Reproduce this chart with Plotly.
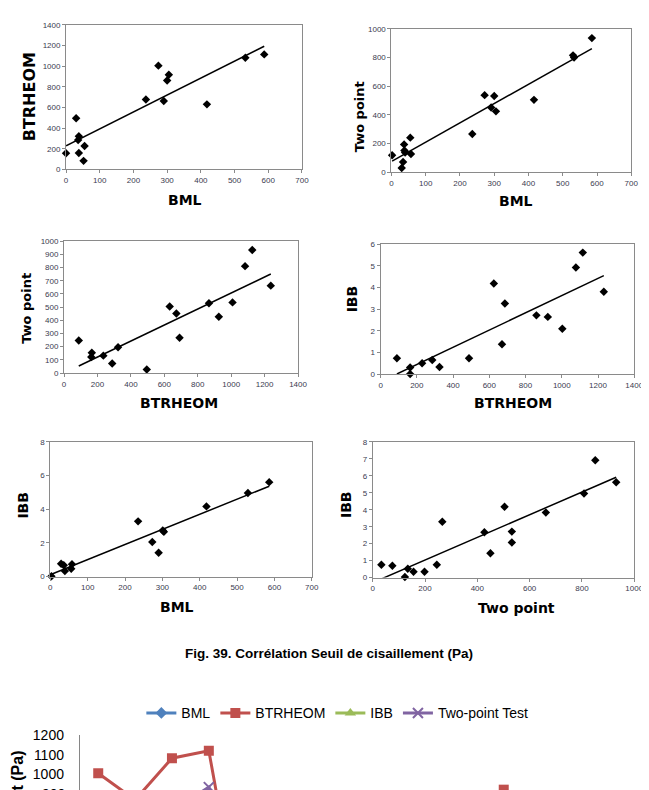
import numpy as np
import plotly.graph_objects as go

W, H = 649, 790

# ---------------- data ----------------
# Panel 1: BML vs BTRHEOM
p1_bml = [0, 30, 36, 38, 38, 52, 55, 237, 274, 290, 300, 305, 418, 532, 588]
p1_btr = [157, 495, 286, 321, 159, 83, 226, 678, 1005, 662, 862, 916, 630, 1082, 1114]

# Panel 2: BML vs Two point
p2_bml = [2, 30, 34, 37, 38, 40, 55, 57, 236, 272, 291, 300, 305, 416, 530, 533, 585]
p2_tp = [120, 30, 72, 195, 152, 138, 242, 128, 268, 538, 452, 532, 425, 505, 815, 800, 935]

# Panel 3: BTRHEOM vs Two point
p3_btr = [88, 166, 163, 235, 288, 323, 495, 632, 672, 691, 867, 926, 1008, 1083, 1126, 1237]
p3_tp = [246, 154, 122, 132, 72, 196, 27, 504, 452, 268, 529, 427, 536, 811, 933, 663]

# Panel 4: BTRHEOM vs IBB
p4_btr = [90, 163, 163, 229, 285, 325, 488, 625, 670, 686, 860, 923, 1003, 1078, 1116, 1232]
p4_ibb = [0.73, 0.30, 0.0, 0.50, 0.65, 0.32, 0.73, 4.18, 1.38, 3.26, 2.71, 2.64, 2.09, 4.92, 5.61, 3.80]

# Panel 5: BML vs IBB
p5_bml = [3, 29, 36, 39, 56, 58, 235, 273, 290, 301, 304, 418, 529, 586]
p5_ibb = [0.02, 0.76, 0.68, 0.33, 0.47, 0.74, 3.28, 2.06, 1.42, 2.74, 2.66, 4.17, 4.97, 5.61]

# Panel 6: Two point vs IBB
p6_tp = [33, 75, 123, 134, 156, 198, 245, 266, 427, 450, 504, 532, 532, 662, 808, 851, 931]
p6_ibb = [0.76, 0.70, 0.04, 0.52, 0.35, 0.35, 0.76, 3.29, 2.67, 1.43, 4.17, 2.71, 2.07, 3.84, 4.96, 6.92, 5.62]

# Bottom line chart (one value per mix)
mix_index = list(range(15))
mix_bml = [274, 300, 532, 588, 52, 0, 38, 55, 36, 38, 30, 305, 418, 290, 237]
mix_btrheom = [1005, 870, 1082, 1120, 85, 163, 163, 229, 288, 323, 495, 922, 632, 672, 691]
mix_ibb = [2.09, 2.71, 4.95, 5.61, 0.73, 0.0, 0.30, 0.50, 0.65, 0.32, 0.73, 2.64, 4.18, 1.38, 3.26]
mix_twopoint = [538, 529, 813, 935, 246, 122, 154, 132, 72, 196, 27, 427, 504, 452, 268]

line_yticks = [1000, 1100, 1200]
caption = "Fig. 39. Corrélation Seuil de cisaillement (Pa)"
line_ytitle = "Seuil de cisaillement (Pa)"


def fx(p):
    return p / W


def fy(p):
    return 1 - p / H


fig = go.Figure()
layout = dict(width=W, height=H, margin=dict(l=0, r=0, t=0, b=0),
              paper_bgcolor="white", plot_bgcolor="white", showlegend=True)
annotations = []

TICKFONT = dict(family="Liberation Sans", size=8, color="#3b3b4f")
TITLEFONT = "DejaVu Sans"

panels = [
    # x data, y data, xrange, xdtick, yrange, ydtick, plot box px (x0,x1,y0,y1), xtitle, ytitle, title positions, ytitle size
    (p1_bml, p1_btr, [0, 700], 100, [0, 1400], 200, (57, 297, 9, 156), "BML", "BTRHEOM", (178, 187), (20, 82), 16),
    (p2_bml, p2_tp, [0, 700], 100, [0, 1000], 200, (388, 632, 13, 159), "BML", "Two point", (515, 188), (355, 102), 13),
    (p3_btr, p3_tp, [0, 1400], 200, [0, 1000], 100, (55, 293, 229, 363), "BTRHEOM", "Two point", (172, 393), (16, 297), 13),
    (p4_btr, p4_ibb, [0, 1400], 200, [0, 6], 1, (377, 635, 232, 364), "BTRHEOM", "IBB", (512, 393), (348, 288), 14),
    (p5_bml, p5_ibb, [0, 700], 100, [0, 8], 2, (41, 307, 433, 570), "BML", "IBB", (170, 601), (13, 497), 14),
    (p6_tp, p6_ibb, [0, 1000], 200, [0, 8], 1, (369, 635, 433, 571), "Two point", "IBB", (515, 602), (342, 497), 14),
]

for i, (xs, ys, xr, xdt, yr, ydt, box, xt, yt, xtp, ytp, yts) in enumerate(panels, start=1):
    xa = "x" if i == 1 else f"x{i}"
    ya = "y" if i == 1 else f"y{i}"
    xs_a = np.array(xs, float)
    ys_a = np.array(ys, float)
    slope, intercept = np.polyfit(xs_a, ys_a, 1)
    tx = np.array([xs_a.min(), xs_a.max()])
    fig.add_trace(go.Scatter(x=tx, y=slope * tx + intercept, mode="lines",
                             line=dict(color="black", width=1.5), xaxis=xa, yaxis=ya,
                             showlegend=False, hoverinfo="skip"))
    fig.add_trace(go.Scatter(x=xs, y=ys, mode="markers",
                             marker=dict(symbol="diamond", size=6.5, color="black"),
                             xaxis=xa, yaxis=ya, showlegend=False, cliponaxis=False))
    x0, x1, y0, y1 = box
    axcommon = dict(showline=True, mirror=True, linecolor="#8a8a8a", linewidth=1,
                    showgrid=False, zeroline=False, ticks="outside", ticklen=3,
                    tickcolor="#8a8a8a", tickfont=TICKFONT)
    layout["xaxis" if i == 1 else f"xaxis{i}"] = dict(
        domain=[fx(x0), fx(x1)], range=xr, dtick=xdt, tick0=0,
        anchor=ya, **axcommon)
    layout["yaxis" if i == 1 else f"yaxis{i}"] = dict(
        domain=[fy(y1), fy(y0)], range=yr, dtick=ydt, tick0=0,
        anchor=xa, **axcommon)
    annotations.append(dict(text=xt, x=fx(xtp[0]), y=fy(xtp[1]), xref="paper", yref="paper",
                            showarrow=False, xanchor="center", yanchor="middle",
                            font=dict(family=TITLEFONT, size=14, color="black", weight="bold")))
    annotations.append(dict(text=yt, x=fx(ytp[0]), y=fy(ytp[1]), xref="paper", yref="paper",
                            showarrow=False, xanchor="center", yanchor="middle", textangle=-90,
                            font=dict(family=TITLEFONT, size=yts, color="black", weight="bold")))

# caption
annotations.append(dict(text=caption, x=fx(324), y=fy(648), xref="paper", yref="paper",
                        showarrow=False, xanchor="center", yanchor="middle",
                        font=dict(family="Liberation Sans", size=13.5, color="black", weight="bold")))

# ---------------- bottom line chart ----------------
LX0, LX1, LY0, LY1 = 71, 633.5, 731, 790
ly_range = [905, 1200]
series = [
    ("BML", mix_bml, "#4F81BD", dict(symbol="diamond", size=9)),
    ("BTRHEOM", mix_btrheom, "#C0504D", dict(symbol="square", size=10)),
    ("IBB", mix_ibb, "#9BBB59", dict(symbol="triangle-up", size=10)),
    ("Two-point Test", mix_twopoint, "#8064A2", dict(symbol="x-thin", size=10, line=dict(width=2))),
]
for name, vals, col, mk in series:
    mk = dict(mk)
    mk["color"] = col
    if "line" in mk:
        mk["line"] = dict(width=2, color=col)
    fig.add_trace(go.Scatter(x=mix_index, y=vals, mode="lines+markers", name=name,
                             line=dict(color=col, width=3), marker=mk,
                             xaxis="x7", yaxis="y7"))

layout["xaxis7"] = dict(domain=[fx(LX0), fx(LX1)], range=[-0.5, len(mix_index) - 0.5],
                        visible=False, anchor="y7")
layout["yaxis7"] = dict(domain=[fy(LY1), fy(LY0)], range=ly_range, tickvals=line_yticks,
                        showline=True, linecolor="#868686", linewidth=1, showgrid=False,
                        zeroline=False, ticks="", ticklabelstandoff=12,
                        tickfont=dict(family="Liberation Sans", size=14, color="black"),
                        anchor="x7")

# partially visible "900" tick label, positioned through the axis scale
dom0, dom1 = fy(LY1), fy(LY0)
y900 = dom0 + (900 - ly_range[0]) / (ly_range[1] - ly_range[0]) * (dom1 - dom0)
annotations.append(dict(text="900", x=fx(LX0 - 12), y=y900, xref="paper", yref="paper",
                        showarrow=False, xanchor="right", yanchor="middle",
                        font=dict(family="Liberation Sans", size=14, color="black")))

annotations.append(dict(text=line_ytitle, x=fx(8), y=fy(745), xref="paper", yref="paper",
                        showarrow=False, xanchor="center", yanchor="top", textangle=-90,
                        font=dict(family="Liberation Sans", size=16, color="black", weight="bold")))

layout["legend"] = dict(orientation="h", x=fx(333), y=fy(709), xanchor="center", yanchor="middle",
                        font=dict(family="Liberation Sans", size=14, color="black"),
                        bgcolor="rgba(0,0,0,0)", itemwidth=30, tracegroupgap=0)
layout["annotations"] = annotations
fig.update_layout(**layout)

fig.write_html("out.html")
